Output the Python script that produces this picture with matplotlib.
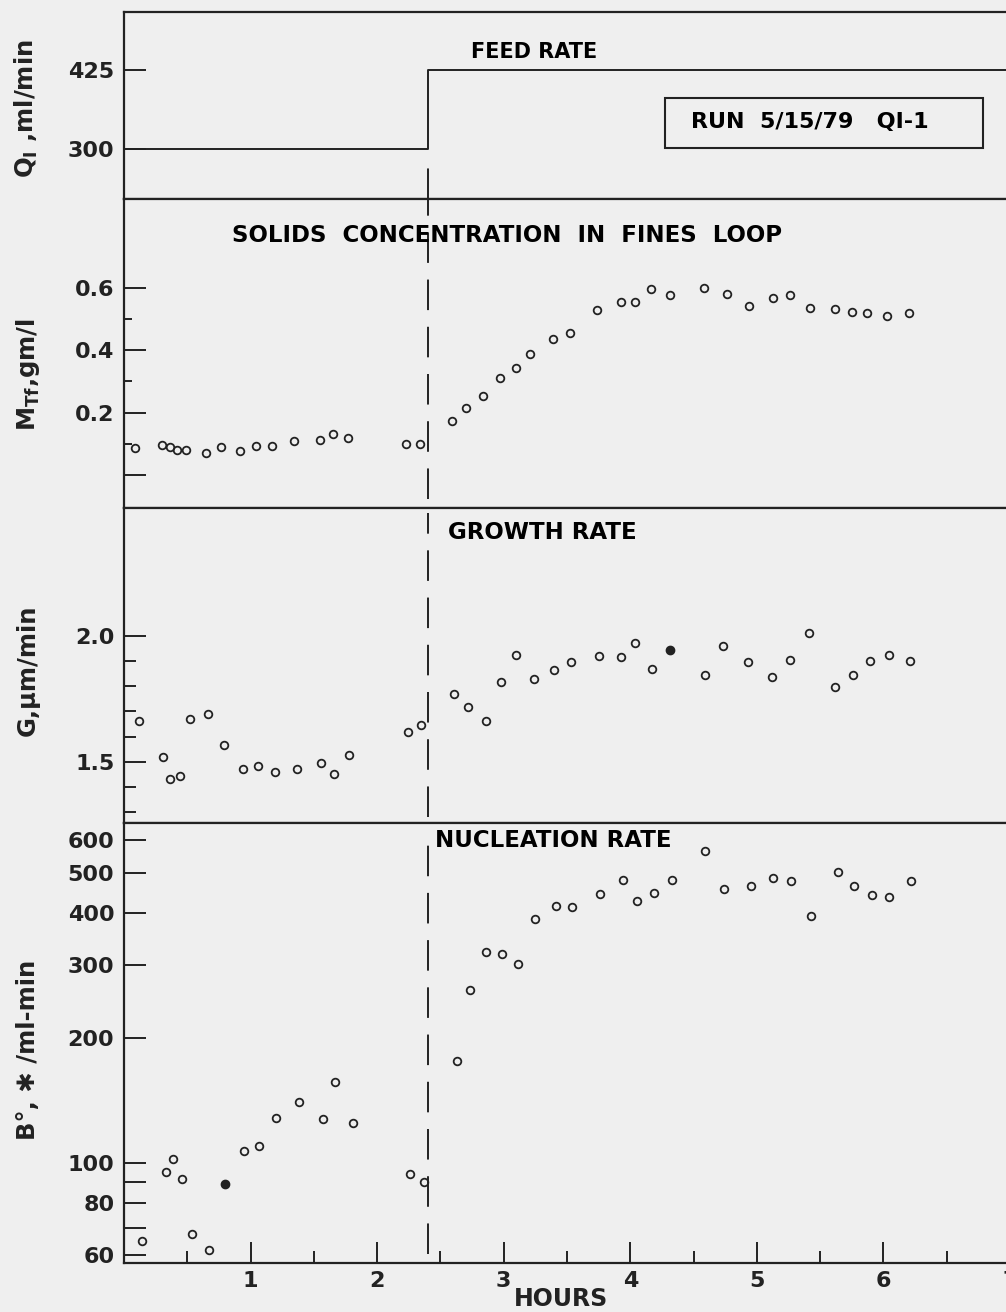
#!/usr/bin/env python3
"""
Crystallizer run 5/15/79 QI-1: feed rate step response
======================================================

Four stacked panels sharing the time axis (hours).
"""

import matplotlib
matplotlib.use('Agg')
import matplotlib.pyplot as plt
from matplotlib.patches import Rectangle
from matplotlib.ticker import FixedLocator, NullFormatter

plt.rcParams['font.family'] = ['DejaVu Sans']
plt.rcParams['font.weight'] = 'bold'
plt.rcParams['mathtext.default'] = 'bf'
plt.rcParams['lines.scale_dashes'] = False

# Feed rate step
feed_t = [0.0, 2.4, 7.0]
feed_q = [300, 425, 425]
step_time = 2.4

# Solids concentration in fines loop, gm/l
mtf_t = [0.09, 0.30, 0.36, 0.42, 0.49, 0.65, 0.77, 0.92, 1.04, 1.17,
         1.34, 1.55, 1.65, 1.77, 2.23, 2.34, 2.59, 2.70, 2.84, 2.97,
         3.10, 3.21, 3.39, 3.52, 3.74, 3.93, 4.04, 4.16, 4.31, 4.58,
         4.76, 4.94, 5.13, 5.26, 5.42, 5.62, 5.75, 5.87, 6.03, 6.20]
mtf = [0.085, 0.097, 0.090, 0.079, 0.081, 0.070, 0.089, 0.077, 0.092, 0.093,
       0.109, 0.113, 0.131, 0.118, 0.099, 0.099, 0.173, 0.214, 0.253, 0.310,
       0.342, 0.388, 0.436, 0.457, 0.531, 0.555, 0.556, 0.598, 0.578, 0.601,
       0.580, 0.543, 0.567, 0.578, 0.537, 0.532, 0.523, 0.521, 0.510, 0.521]

# Growth rate, um/min
g_t = [0.12, 0.31, 0.36, 0.44, 0.52, 0.66, 0.79, 0.94, 1.06, 1.19,
       1.37, 1.56, 1.66, 1.78, 2.24, 2.35, 2.61, 2.72, 2.86, 2.98,
       3.10, 3.24, 3.40, 3.53, 3.75, 3.93, 4.04, 4.17, 4.59, 4.73,
       4.93, 5.12, 5.26, 5.41, 5.62, 5.76, 5.89, 6.04, 6.21]
g = [1.661, 1.517, 1.433, 1.443, 1.671, 1.688, 1.565, 1.471, 1.484, 1.458,
     1.471, 1.496, 1.452, 1.525, 1.618, 1.646, 1.770, 1.717, 1.660, 1.815,
     1.922, 1.829, 1.865, 1.894, 1.919, 1.914, 1.971, 1.868, 1.843, 1.961,
     1.894, 1.837, 1.905, 2.011, 1.798, 1.845, 1.901, 1.923, 1.901]
g_filled_t = [4.31]
g_filled = [1.942]

# Nucleation rate, #/ml-min
b_t = [0.14, 0.33, 0.39, 0.46, 0.54, 0.67, 0.95, 1.07, 1.20, 1.38,
       1.57, 1.67, 1.81, 2.26, 2.37, 2.63, 2.73, 2.86, 2.99, 3.11,
       3.25, 3.41, 3.54, 3.76, 3.94, 4.05, 4.19, 4.33, 4.59, 4.74,
       4.95, 5.13, 5.27, 5.43, 5.64, 5.77, 5.91, 6.04, 6.22]
b = [65.1, 95.2, 102.4, 91.8, 67.4, 61.9, 107.2, 110.2, 128.3, 140.5,
     127.6, 156.7, 124.8, 94.1, 90.3, 176.6, 260.5, 321.6, 318.7, 300.8,
     387.0, 416.0, 414.4, 443.6, 481.4, 428.5, 446.1, 480.7, 565.5, 457.0,
     464.7, 486.0, 477.0, 394.2, 501.4, 463.9, 442.9, 436.3, 478.9]
b_filled_t = [0.80]
b_filled = [89.3]

BG = '#efefef'
INK = '#222222'
FS = 16        # tick labels
FS_T = 16.5    # panel titles
FS_L = 17.5    # axis titles

fig = plt.figure(figsize=(10.06, 13.12), dpi=100, facecolor=BG)

left, width = 0.1233, 0.8807
ax1 = fig.add_axes([left, 0.8483, width, 0.1428])
ax2 = fig.add_axes([left, 0.6128, width, 0.2355])
ax3 = fig.add_axes([left, 0.3727, width, 0.2401])
ax4 = fig.add_axes([left, 0.03735, width, 0.3354])
axes = [ax1, ax2, ax3, ax4]

for ax in axes:
    ax.set_facecolor(BG)
    ax.set_xlim(0, 7)
    for side in ['left', 'top', 'bottom']:
        ax.spines[side].set_linewidth(1.6)
        ax.spines[side].set_color(INK)
    ax.spines['right'].set_visible(False)
    ax.tick_params(axis='y', direction='in', length=16, width=1.4,
                   color=INK, labelsize=FS, pad=7, labelcolor=INK)
    ax.tick_params(axis='y', which='minor', direction='in', length=8.5,
                   width=1.4, color=INK)
    ax.tick_params(axis='x', which='both', bottom=False, top=False,
                   labelbottom=False)

mk = dict(linestyle='none', marker='o', ms=5.5, mfc='none', mec=INK, mew=1.3)
mk_fill = dict(linestyle='none', marker='o', ms=6, mfc=INK, mec=INK, mew=1.0)
dash = dict(color=INK, lw=1.4, linestyle=(0, (22, 12)))

# --- Feed rate
ax1.step(feed_t, feed_q, where='post', color=INK, lw=1.4)
ax1.set_ylim(221, 517)
ax1.set_yticks([300, 425])
ax1.plot([step_time, step_time], [221, 280], **dash)
ax1.text(0.463, 0.785, 'FEED RATE', transform=ax1.transAxes,
         ha='center', va='center', fontsize=15)
ax1.add_patch(Rectangle((0.611, 0.272), 0.359, 0.267, transform=ax1.transAxes,
                        fill=False, ec=INK, lw=1.5))
ax1.text(0.774, 0.411, 'RUN  5/15/79   QI-1', transform=ax1.transAxes,
         ha='center', va='center', fontsize=16)

# --- Solids concentration
ax2.plot(mtf_t, mtf, **mk)
ax2.set_ylim(-0.107, 0.887)
ax2.set_yticks([0.0, 0.2, 0.4, 0.6])
ax2.set_yticklabels(['', '0.2', '0.4', '0.6'])
ax2.yaxis.set_minor_locator(FixedLocator([0.1, 0.3, 0.5]))
ax2.tick_params(axis='y', which='minor', length=5.5)
ax2.axvline(step_time, ymin=0.03, **dash)
ax2.text(0.432, 0.883, 'SOLIDS  CONCENTRATION  IN  FINES  LOOP',
         transform=ax2.transAxes, ha='center', va='center', fontsize=FS_T)

# --- Growth rate
ax3.plot(g_t, g, **mk)
ax3.plot(g_filled_t, g_filled, **mk_fill)
ax3.set_ylim(1.257, 2.507)
ax3.set_yticks([1.5, 2.0])
ax3.set_yticklabels(['1.5', '2.0'])
ax3.yaxis.set_minor_locator(FixedLocator([1.3, 1.4, 1.6, 1.7, 1.8, 1.9]))
ax3.axvline(step_time, ymin=0.02, ymax=0.985, **dash)
ax3.text(0.472, 0.922, 'GROWTH RATE', transform=ax3.transAxes,
         ha='center', va='center', fontsize=FS_T)

# --- Nucleation rate
ax4.plot(b_t, b, **mk)
ax4.plot(b_filled_t, b_filled, **mk_fill)
ax4.set_yscale('log')
ax4.set_ylim(57.5, 659)
b_ticks = [60, 70, 80, 90, 100, 200, 300, 400, 500, 600]
ax4.yaxis.set_major_locator(FixedLocator(b_ticks))
ax4.yaxis.set_minor_locator(FixedLocator([]))
ax4.yaxis.set_minor_formatter(NullFormatter())
ax4.set_yticklabels(['60', '', '80', '', '100', '200', '300', '400', '500', '600'])
ax4.axvline(step_time, ymin=0.02, ymax=0.96, **dash)
ax4.text(0.484, 0.959, 'NUCLEATION RATE', transform=ax4.transAxes,
         ha='center', va='center', fontsize=FS_T)

ax4.set_xticks([1, 2, 3, 4, 5, 6, 7])
ax4.set_xticks([0.5, 1.5, 2.5, 3.5, 4.5, 5.5, 6.5], minor=True)
ax4.tick_params(axis='x', which='major', bottom=True, labelbottom=True,
                direction='in', length=15, width=1.4, color=INK,
                labelsize=FS, pad=6, labelcolor=INK)
ax4.tick_params(axis='x', which='minor', bottom=True, direction='in',
                length=9, width=1.4, color=INK)

# --- Axis titles (hand lettered in the original, placed by eye)
ylab = dict(rotation=90, ha='center', va='center', fontsize=FS_L, color=INK)
fig.text(26 / 1006, 1 - 109 / 1312, r'Q$_\mathbf{I}$ ,ml/min', **ylab)
fig.text(28 / 1006, 1 - 375 / 1312, r'M$_\mathbf{Tf}$,gm/l', **ylab)
fig.text(28 / 1006, 1 - 670 / 1312, 'G,\u00b5m/min', **ylab)
fig.text(28 / 1006, 1 - 1050 / 1312, 'B\u00b0, \u2731 /ml-min', **ylab)
fig.text(561 / 1006, 1 - 1299 / 1312, 'HOURS', ha='center', va='center',
         fontsize=17, color=INK)

plt.savefig('out.png', dpi=100, facecolor=BG)
plt.close()
